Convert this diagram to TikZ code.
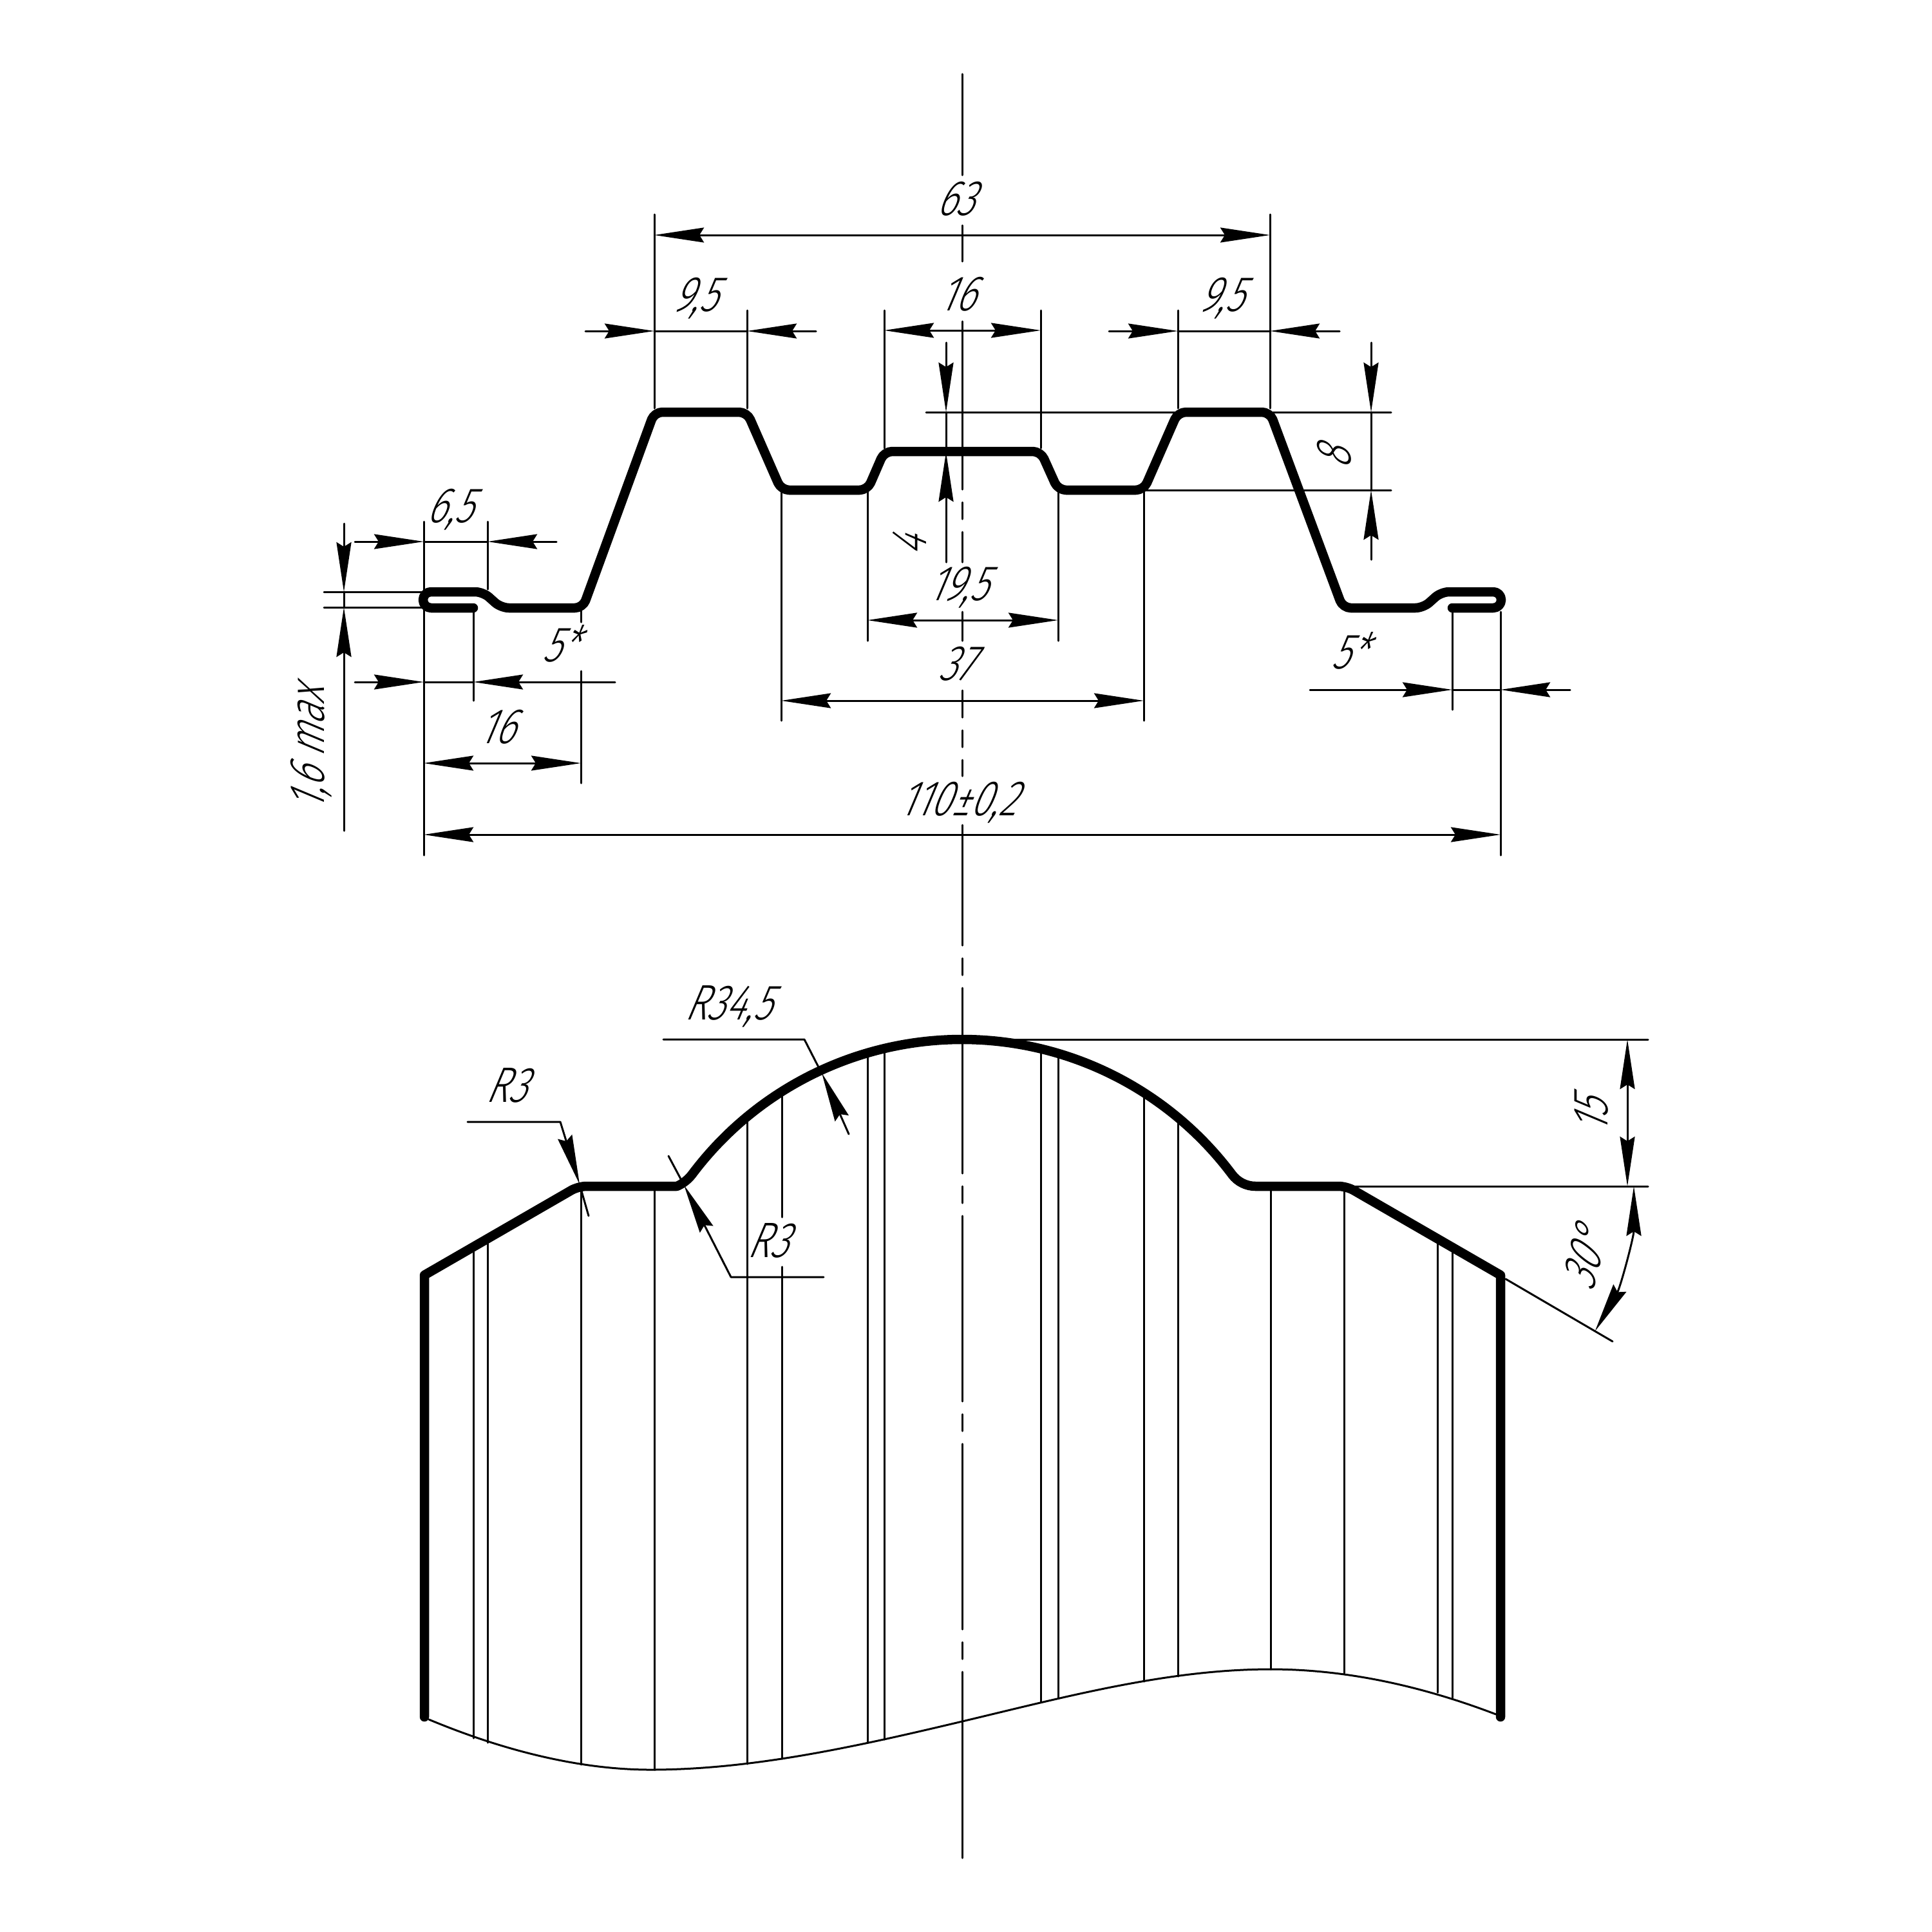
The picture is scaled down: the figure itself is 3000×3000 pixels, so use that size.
\documentclass[tikz,border=0pt]{standalone}
\usepackage{fontspec}
\setmainfont[FakeSlant=0.42,FakeStretch=0.76]{Fira Sans Light}
\usetikzlibrary{arrows.meta}
\tikzset{
	thin-line/.style={line width=0.03cm},
	profile-line/.style={line width=0.145cm},
	dim-text/.style={font=\fontsize{22}{26}\selectfont,inner sep=0pt,text height=0.54cm,text depth=0pt,execute at begin node={\kern-0.23cm}},
}
\begin{document}
\begin{tikzpicture}[x=0.01cm, y=-0.01cm, line join=round, line cap=round, >={Stealth[length=0.77cm,width=0.23cm,inset=0.07cm]}]
	\useasboundingbox (0,0) rectangle (3000,3000);
	\foreach \ya/\yb in {115/272,350/406,499/760,780/806,826/873,950/995,1072/1114,1134/1160,1180/1205,1281/1468,1488/1514,1534/1822,1842/1868,1888/2176,2196/2222,2242/2530,2550/2576,2596/2885}
		\draw[thin-line] (1494,\ya)--(1494,\yb);
	\foreach \xa/\ya/\yb in {658/810/1328,757/810/915,735/950/1088,902/945/966,902/1042/1216,1016/333/634,1160/482/634,1829/482/634,1972/333/634,1373/482/696,1616/482/696,1213/761/1119,1776/761/1119,1347/761/995,1643/761/995,2255/950/1102,2330/950/1328}
		\draw[thin-line] (\xa,\ya)--(\xa,\yb);
	\foreach \xa/\xb/\ya in {503/658/919,503/658/943,1438/2160/640,1776/2160/761}
		\draw[thin-line] (\xa,\ya)--(\xb,\ya);
	\foreach \xa/\xb/\y in {1016/1972/365,1373/1616/513,1347/1643/963,1213/1776/1088,658/902/1185,658/2330/1296}
		\draw[thin-line,<->] (\xa,\y)--(\xb,\y);
	\foreach \xa/\xb/\xc/\xd/\y in {551/658/757/864/841,551/658/735/955/1059,909/1016/1160/1267/514,1722/1829/1972/2080/514,2034/2255/2330/2438/1071}{
		\draw[thin-line,->] (\xa,\y)--(\xb,\y);
		\draw[thin-line] (\xb,\y)--(\xc,\y);
		\draw[thin-line,->] (\xd,\y)--(\xc,\y);
	}
	\foreach \x/\ya/\yb/\yc/\yd in {534/813/919/943/1290,1469/532/640/702/873,2129/532/640/761/869}{
		\draw[thin-line,->] (\x,\ya)--(\x,\yb);
		\draw[thin-line] (\x,\yb)--(\x,\yc);
		\draw[thin-line,->] (\x,\yd)--(\x,\yc);
	}
	\foreach \xa/\ya/\yb in {735/1936/2699,757/1923/2706,902/1842/2740,1016/1842/2748,1160/1734/2739,1214/1695/1890,1214/1967/2731,1347/1635/2706,1373/1628/2701,1616/1628/2643,1643/1635/2636,1776/1696/2611,1829/1735/2603,1973/1842/2592,2087/1842/2598,2232/1924/2628,2255/1937/2636}
		\draw[thin-line] (\xa,\ya)--(\xa,\yb);
	\draw[thin-line] (666,2670) .. controls (781,2718) and (900,2748) .. (1010,2748)
		.. controls (1170,2748) and (1334,2711) .. (1494,2673)
		.. controls (1654,2635) and (1813,2592) .. (1973,2592)
		.. controls (2090,2592) and (2208,2618) .. (2323,2662);
	\draw[profile-line,rounded corners=3.5pt] (735,944)--(657,944)--(657,919)--(750,919)--(778,944)--(905,944)--(1016,640)--(1160,640)--(1213,761)--(1347,761)--(1373,701)--(1616,701)--(1643,761)--(1776,761)--(1829,640)--(1972,640)--(2085,944)--(2210,944)--(2238,919)--(2331,919)--(2331,944)--(2255,944);
	\draw[profile-line] (659,2666)--(659,1980) [rounded corners=3.5pt] --(898,1842)--(1038,1842) [sharp corners]
		arc[start angle=90,end angle=36.85,radius=45.6]
		arc[start angle=216.85,end angle=323.15,radius=524]
		arc[start angle=143.15,end angle=90,radius=45.6]
		[rounded corners=3.5pt] --(2091,1842) [sharp corners] --(2330,1980)--(2330,2666);
	\draw[thin-line] (1494,1614)--(2559,1614);
	\draw[thin-line] (2096,1842)--(2559,1842);
	\draw[thin-line] (2338,1986)--(2504,2083);
	\draw[thin-line,<->] (2527,1614)--(2527,1842);
	\draw[thin-line,<->] (2537,1842) arc[start angle=0,end angle=30,radius=450];
	\draw[thin-line,->] (726,1742)--(870,1742)--(900,1839);
	\draw[thin-line] (900,1839)--(914,1888);
	\draw[thin-line,->] (1279,1983)--(1135,1983)--(1062,1840);
	\draw[thin-line] (1062,1840)--(1038,1795);
	\draw[thin-line] (1030,1614)--(1249,1614)--(1271,1657);
	\draw[thin-line,->] (1318,1761)--(1276,1666);
	\node[dim-text] (lb63) at (1494,307) {63};
	\node[dim-text] (lb95a) at (1090,456) {9,5};
	\node[dim-text] (lb16a) at (1497,455) {16};
	\node[dim-text] (lb95b) at (1907,456) {9,5};
	\node[dim-text] (lb65) at (709,784) {6,5};
	\node[dim-text] (lb5a) at (880,1000) {5*};
	\node[dim-text] (lb5b) at (2105,1011) {5*};
	\node[dim-text] (lb16b) at (782,1127) {16};
	\node[dim-text] (lb195) at (1498,905) {19,5};
	\node[dim-text] (lb37) at (1495,1029) {37};
	\node[dim-text] (lb110) at (1498,1239) {110±0,2};
	\node[dim-text,rotate=90] (lb16max) at (476,1152) {1,6 max};
	\node[dim-text,rotate=90] (lb4) at (1411,838) {4};
	\node[dim-text,rotate=90] (lb8) at (2070,701) {8};
	\node[dim-text] (lbr3a) at (797,1684) {R3};
	\node[dim-text] (lbr345) at (1141,1556) {R34,5};
	\node[dim-text] (lbr3b) at (1203,1925) {R3};
	\node[dim-text,rotate=90] (lb15) at (2469,1723) {15};
	\node[dim-text,rotate=75] (lb30) at (2462,1944) {30°};
\end{tikzpicture}
\end{document}
